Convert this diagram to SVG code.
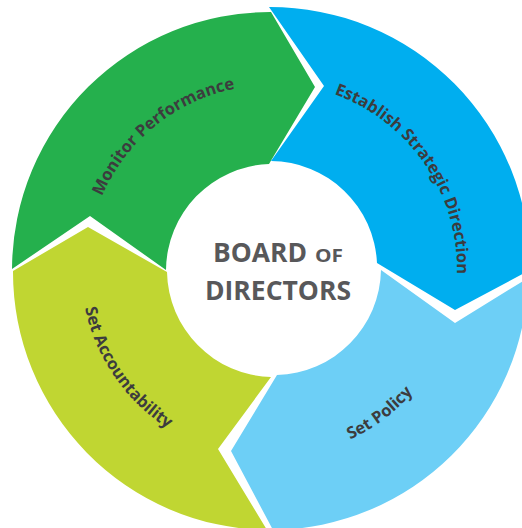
<svg xmlns="http://www.w3.org/2000/svg" width="522" height="528" viewBox="0 0 522 528">
  <style>
    .lbl { font-family: "Open Sans", "Noto Sans", "DejaVu Sans", sans-serif; font-weight: 700; font-size: 16.5px; fill: #3c3c3e; }
    .ctr { font-family: "Open Sans", "Noto Sans", "DejaVu Sans", sans-serif; font-weight: 700; fill: #58585a; }
  </style>
  <defs>
    <path id="pMonitor" d="M 89.3,297.8 A 184 184 0 0 1 336.9,97.2"/>
    <path id="pEstablish" d="M 257.1,83.5 A 186 186 0 0 1 438.6,349.7"/>
    <path id="pPolicy" d="M 228.7,452.2 A 188 188 0 0 0 458.7,278.8"/>
    <path id="pAccount" d="M 87.9,218.2 A 190 190 0 0 0 252.8,458.1"/>
  </defs>
  <rect x="0" y="0" width="522" height="528" fill="#ffffff"/>

  <g id="monitor-performance">
    <path d="M 12,269 A 258 258 0 0 1 271,12 L 315,87 L 269,164 A 107 107 0 0 0 166,270 L 90,216 Z" fill="#25b04d"/>
    <text class="lbl"><textPath href="#pMonitor" startOffset="50%" text-anchor="middle">Monitor Performance</textPath></text>
  </g>

  <g id="establish-strategic-direction">
    <path d="M 269,7 A 260 260 0 0 1 530,270 L 455,310 L 377,263 A 107 107 0 0 0 271,161 L 324,86 Z" fill="#00aeef"/>
    <text class="lbl"><textPath href="#pEstablish" startOffset="50%" text-anchor="middle">Establish Strategic Direction</textPath></text>
  </g>

  <g id="set-policy">
    <path d="M 528,278 A 258 258 0 0 1 273,530 L 231,451 L 277,375 A 107 107 0 0 0 381,270 L 455,323 Z" fill="#6dcff6"/>
    <text class="lbl"><textPath href="#pPolicy" startOffset="50%" text-anchor="middle">Set Policy</textPath></text>
  </g>

  <g id="set-accountability">
    <path d="M 13,271 L 88,227 L 167,272 A 107 107 0 0 0 271,377 L 218,449 L 267,530 A 258 258 0 0 1 13,271 Z" fill="#c0d632"/>
    <text class="lbl"><textPath href="#pAccount" startOffset="50%" text-anchor="middle">Set Accountability</textPath></text>
  </g>

  <g id="board-of-directors">
    <text class="ctr" x="213" y="262" font-size="26" textLength="94" lengthAdjust="spacingAndGlyphs">BOARD</text>
    <text class="ctr" x="315" y="262" font-size="17" textLength="28" lengthAdjust="spacingAndGlyphs">OF</text>
    <text class="ctr" x="205" y="300" font-size="26" textLength="146" lengthAdjust="spacingAndGlyphs">DIRECTORS</text>
  </g>

  <g id="connectors"></g>
</svg>
